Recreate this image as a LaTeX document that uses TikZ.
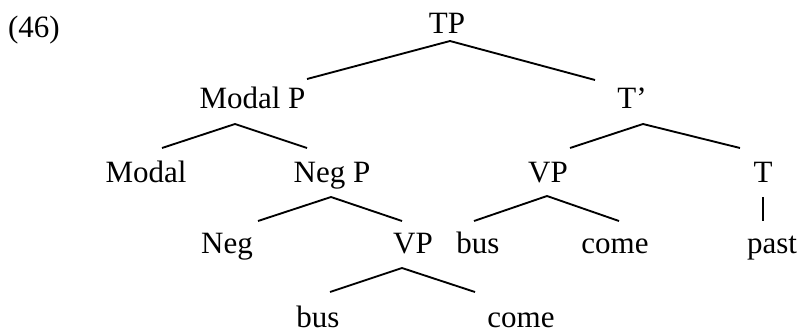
\documentclass[tikz,border=0pt]{standalone}
\usepackage{fontspec}
\setmainfont{Liberation Serif}
\begin{document}
\begin{tikzpicture}[x=0.75pt,y=-0.75pt,
  lbl/.style={anchor=base,inner sep=0pt,outer sep=0pt,font=\fontsize{23.25}{28}\selectfont},
  br/.style={line width=1.4pt}]
\useasboundingbox (0,0) rectangle (799,333);
% labels
\node[lbl,anchor=base west] (ex) at (8,37) {(46)};
\node[lbl] (TP) at (447,33) {TP};
\node[lbl] (ModP) at (252.5,108) {Modal P};
\node[lbl] (Tbar) at (632,108) {T’};
\node[lbl] (Modal) at (146,182) {Modal};
\node[lbl] (NegP) at (332,182) {Neg P};
\node[lbl] (VPa) at (548,182) {VP};
\node[lbl] (T) at (763,182) {T};
\node[lbl] (Neg) at (227,253) {Neg};
\node[lbl] (VPb) at (413,253) {VP};
\node[lbl] (busa) at (478,253) {bus};
\node[lbl] (comea) at (615,253) {come};
\node[lbl] (past) at (772,253) {past};
\node[lbl] (busb) at (318,327) {bus};
\node[lbl] (comeb) at (521,327) {come};
% branch points
\coordinate (TPa) at (450,41);  \coordinate (TPl) at (307,79);  \coordinate (TPr) at (595,80);
\coordinate (MPa) at (235,124); \coordinate (MPl) at (162,148); \coordinate (MPr) at (307,148);
\coordinate (TBa) at (643,124); \coordinate (TBl) at (570,148); \coordinate (TBr) at (740,148);
\coordinate (NPa) at (331,197); \coordinate (NPl) at (258,221); \coordinate (NPr) at (402,221);
\coordinate (VAa) at (547,196); \coordinate (VAl) at (474,221); \coordinate (VAr) at (619,221);
\coordinate (Tt) at (763,197);  \coordinate (Tb) at (763,221);
\coordinate (VBa) at (402,268); \coordinate (VBl) at (330,292); \coordinate (VBr) at (475,292);
% branches
\draw[br] (TPl) -- (TPa) -- (TPr);
\draw[br] (MPl) -- (MPa) -- (MPr);
\draw[br] (TBl) -- (TBa) -- (TBr);
\draw[br] (NPl) -- (NPa) -- (NPr);
\draw[br] (VAl) -- (VAa) -- (VAr);
\draw[br] (Tt) -- (Tb);
\draw[br] (VBl) -- (VBa) -- (VBr);
\end{tikzpicture}
\end{document}
